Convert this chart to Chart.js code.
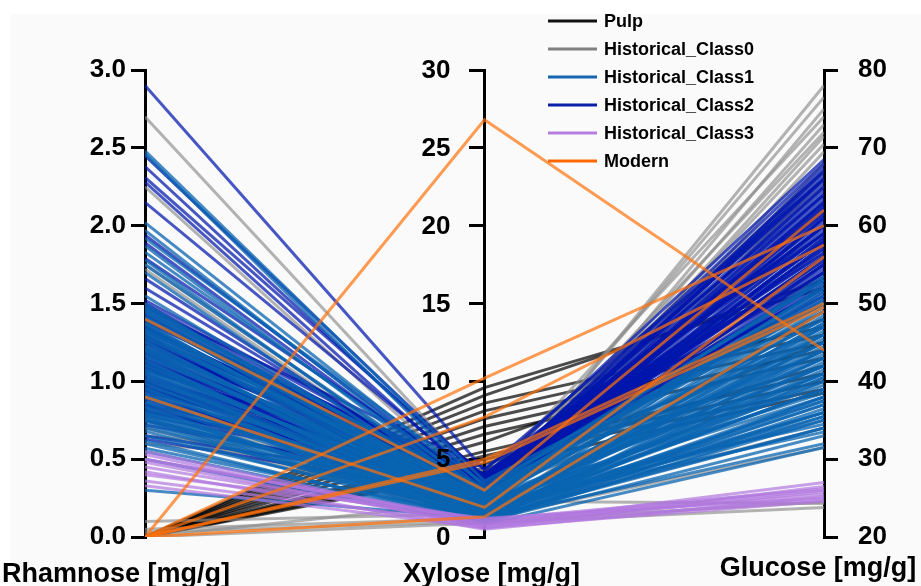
<!DOCTYPE html>
<html lang="en">
<head>
    <meta charset="UTF-8">
    <title>Parallel coordinates - sugars</title>
    <script src="https://cdn.jsdelivr.net/npm/chart.js"></script>
    <style>
        html, body { margin: 0; padding: 0; background: #ffffff; }
        #chart { display: block; }
    </style>
</head>
<body>
    <canvas id="chart" width="921" height="586"></canvas>

    <script>
    // axes (one value per line on each axis)
    const axisTitles = ['Rhamnose [mg/g]', 'Xylose [mg/g]', 'Glucose [mg/g]'];
    const rhaTicks = [0, 0.5, 1.0, 1.5, 2.0, 2.5, 3.0];
    const xylTicks = [0, 5, 10, 15, 20, 25, 30];
    const gluTicks = [20, 30, 40, 50, 60, 70, 80];

    const classNames = ['Pulp', 'Historical_Class0', 'Historical_Class1', 'Historical_Class2', 'Historical_Class3', 'Modern'];

    // Pulp
    const pulpRha = [0, 0, 0, 0, 0, 0, 0, 0, 0, 0, 0, 0, 0, 0];
    const pulpXyl = [9.6, 9.1, 8.6, 8.1, 7.6, 7.1, 6.6, 6.1, 5.5, 5.2, 5.0, 4.7, 4.4, 4.2];
    const pulpGlu = [52, 53, 47, 46, 45, 44, 43, 48, 41, 40, 39, 42, 38.5, 45];

    // Historical_Class0
    const c0Rha = [2.7, 2.25, 1.75, 1.72, 1.5, 1.3, 1.2, 1.1, 1.0, 0.95,
                   0.85, 0.75, 0.7, 0.65, 0.6, 0.1, 0.05, 0.03, 0.0, 0.0];
    const c0Xyl = [3.5, 2.8, 2.5, 2.2, 2.0, 1.8, 1.5, 1.4, 1.6, 1.2,
                   1.3, 1.0, 1.1, 4.3, 4.0, 1.5, 1.2, 1.0, 2.3, 0.9];
    const c0Glu = [74, 72, 76.5, 78, 70.5, 73, 75, 69.5, 71.5, 68,
                   66, 56, 54, 65, 67, 34, 31.5, 24.5, 24.3, 23.8];

    // Historical_Class1
    const c1Rha = [2.48, 2.46, 2.02, 1.97, 1.92, 1.87, 1.83, 1.78, 1.75, 1.70,
                   1.55, 1.50, 1.48, 1.45, 1.42, 1.40, 1.37, 1.34, 1.31, 1.28,
                   1.25, 1.22, 1.19, 1.16, 1.13, 1.10, 1.07, 1.04, 1.01, 0.98,
                   0.95, 0.92, 0.89, 0.86, 0.83, 0.80, 0.78, 0.76, 0.74, 0.72,
                   0.70, 0.68, 0.65, 0.62, 0.60, 0.57, 0.55, 0.50, 0.30, 1.33,
                   1.47, 1.44, 1.41, 1.38, 1.36, 1.32, 1.29, 1.26, 1.23, 1.20,
                   1.17, 1.14, 1.11, 1.08, 1.05, 1.02, 0.99, 0.96, 0.93, 0.90,
                   0.87, 0.84, 0.81, 0.79, 0.77, 0.75, 1.46, 1.21, 1.06, 0.91];
    const c1Xyl = [3.6, 3.2, 3.0, 2.7, 3.4, 2.5, 2.9, 2.2, 2.6, 2.0,
                   2.4, 1.8, 2.8, 2.1, 1.6, 2.5, 1.9, 2.3, 1.4, 2.7,
                   1.7, 2.0, 1.5, 2.2, 1.3, 1.8, 2.4, 1.2, 1.6, 2.0,
                   1.4, 1.1, 1.9, 1.5, 1.0, 1.7, 1.3, 2.1, 0.9, 1.2,
                   1.6, 1.0, 1.4, 0.9, 1.1, 1.3, 1.0, 0.8, 1.2, 2.6,
                   2.3, 1.9, 2.6, 1.5, 2.1, 1.8, 2.9, 1.4, 2.0, 1.6,
                   2.4, 1.2, 1.7, 2.2, 1.3, 1.9, 1.1, 1.5, 2.0, 1.3,
                   1.8, 1.0, 1.4, 1.6, 1.1, 1.2, 3.1, 2.5, 1.7, 0.9];
    const c1Glu = [50, 47, 53, 44, 49, 41, 46, 38, 52, 43,
                   48, 36, 51, 40, 45, 34.5, 47.5, 42, 37, 50.5,
                   39, 44.5, 35.5, 49.5, 41.5, 46.5, 38.5, 52.5, 43.5, 33.5,
                   48.5, 40.5, 45.5, 37.5, 42.5, 35, 47, 39.5, 44, 32,
                   41, 36.5, 49, 38, 43, 34, 46, 31.5, 37, 53.5,
                   51.5, 45, 48, 39, 42, 47, 50, 36, 44, 40.5,
                   52, 34, 46, 49, 37.5, 43, 35, 41, 45, 38,
                   47.5, 33, 42, 39, 36, 40, 53, 50, 44, 35.5];

    // Historical_Class2
    const c2Rha = [2.9, 2.45, 2.38, 2.31, 2.28, 2.15, 1.94, 1.89, 1.79, 1.66,
                   1.6, 1.52, 1.48, 1.45, 1.42, 1.4, 1.38, 1.35, 1.33, 1.3,
                   1.28, 1.25, 1.22, 1.2, 1.18, 1.15, 1.12, 1.1, 1.08, 1.05,
                   1.02, 1.0, 0.98, 0.96, 0.94, 0.92, 0.9, 0.88, 0.86, 0.84,
                   0.82, 0.8, 0.78, 0.75, 0.72, 0.65, 0.63, 1.13, 1.27, 0.99,
                   1.5, 1.47, 1.43, 1.39, 1.36, 1.32, 1.29, 1.24, 1.21, 1.17,
                   1.14, 1.11, 1.07, 1.04, 1.01, 0.97, 0.93, 0.89, 0.85, 0.81,
                   1.26, 1.09, 0.95, 1.19, 1.34];
    const c2Xyl = [4.3, 3.8, 3.6, 3.9, 3.2, 3.5, 3.0, 2.8, 3.3, 2.6,
                   2.9, 3.4, 2.7, 3.2, 3.1, 2.5, 3.9, 2.3, 2.8, 3.1,
                   3.8, 2.6, 4.0, 3.7, 2.4, 3.6, 2.2, 2.9, 3.5, 2.7,
                   4.0, 2.8, 3.4, 2.3, 3.6, 2.1, 3.3, 2.9, 3.5, 2.7,
                   3.2, 4.1, 3.4, 2.6, 3.3, 3.1, 2.5, 3.4, 2.9, 2.5,
                   3.0, 4.4, 2.8, 4.0, 2.6, 3.8, 2.3, 3.2, 3.7, 2.1,
                   2.5, 3.6, 3.9, 2.2, 3.5, 2.8, 4.0, 3.4, 3.6, 3.3,
                   3.0, 2.4, 3.7, 2.6, 3.3];
    const c2Glu = [66, 64, 62, 68.5, 60, 67, 63, 58, 65, 61,
                   57, 64.5, 59, 62.5, 66.5, 55, 60.5, 58.5, 63.5, 56,
                   61.5, 54, 59.5, 65.5, 57.5, 52, 62, 53, 60, 67.5,
                   55.5, 58, 51, 63, 56.5, 61, 50.5, 59, 54.5, 64,
                   52.5, 57, 60, 53.5, 58, 56, 51.5, 68, 62, 55,
                   63, 59, 65, 56.5, 61, 54, 58.5, 66, 52, 57.5,
                   62.5, 51, 55, 60, 53, 56, 59, 50, 54, 52,
                   64, 61.5, 55.5, 67, 66];

    // Historical_Class3
    const c3Rha = [0.55, 0.53, 0.5, 0.48, 0.45, 0.42, 0.4, 0.36, 0.33, 0.5];
    const c3Xyl = [0.8, 0.6, 1.0, 0.7, 0.9, 0.5, 1.2, 0.8, 0.6, 1.1];
    const c3Glu = [27, 26.5, 26, 25.8, 25.5, 25.2, 25, 24.8, 24.6, 26.2];

    // Modern
    const modRha = [0, 0, 0, 1.4, 0.9, 0, 0, 0];
    const modXyl = [26.8, 10.2, 7.7, 3.0, 1.9, 1.3, 5.0, 4.8];
    const modGlu = [44, 60, 57.5, 62, 56, 49, 50, 49.5];

    const legendColors = ['#111111', '#808080', '#1565b0', '#0a1ea8', '#b57ede', '#ff6600'];
    const lineColors = ['rgba(0,0,0,0.7)', 'rgba(140,140,140,0.65)', 'rgba(10,100,178,0.75)',
                        'rgba(0,22,172,0.72)', 'rgba(176,118,222,0.7)', 'rgba(255,112,10,0.7)'];
    const drawOrder = [5, 4, 2, 3, 1, 0];   // lower = drawn on top

    const groups = [
        [pulpRha, pulpXyl, pulpGlu],
        [c0Rha, c0Xyl, c0Glu],
        [c1Rha, c1Xyl, c1Glu],
        [c2Rha, c2Xyl, c2Glu],
        [c3Rha, c3Xyl, c3Glu],
        [modRha, modXyl, modGlu]
    ];

    // normalise each axis to 0..1 so all lines share one hidden scale
    const norm = (v, t) => (v - t[0]) / (t[t.length - 1] - t[0]);

    const datasets = [];
    groups.forEach((g, ci) => {
        g[0].forEach((r, i) => {
            datasets.push({
                data: [
                    { x: 0, y: norm(r, rhaTicks) },
                    { x: 1, y: norm(g[1][i], xylTicks) },
                    { x: 2, y: norm(g[2][i], gluTicks) }
                ],
                borderColor: lineColors[ci],
                borderWidth: 3,
                pointRadius: 0,
                tension: 0,
                yAxisID: 'yN',
                order: drawOrder[ci]
            });
        });
    });

    const tickFont = { family: 'Liberation Sans, Arial', size: 26, weight: 'bold' };

    function axisOpts(ticks, pos, pad, width, step) {
        return {
            type: 'linear',
            position: pos,
            min: ticks[0],
            max: ticks[ticks.length - 1],
            afterFit: width ? (s) => { s.width = width; } : undefined,
            ticks: {
                display: pad !== null,
                stepSize: step,
                color: '#000',
                font: tickFont,
                padding: pad || 0,
                callback: (v) => step < 1 ? v.toFixed(1) : v
            },
            grid: { drawOnChartArea: false, color: '#000', tickLength: 14, lineWidth: 3 },
            border: { color: '#000', width: 3 }
        };
    }

    const panelBg = {
        id: 'panelBg',
        beforeDraw(chart) {
            const c = chart.ctx;
            c.save();
            c.fillStyle = '#fafafa';
            c.fillRect(11, 14, chart.width - 11, chart.height - 14);
            c.restore();
        }
    };

    const extras = {
        id: 'extras',
        afterDraw(chart) {
            const c = chart.ctx;
            const xs = chart.scales.x;
            const ym = chart.scales.yX;
            c.save();
            // middle axis labels (left of the axis)
            c.fillStyle = '#000';
            c.font = 'bold 26px "Liberation Sans", Arial';
            c.textAlign = 'right';
            c.textBaseline = 'middle';
            xylTicks.forEach((v) => {
                c.fillText(String(v), xs.getPixelForValue(1) - 34, ym.getPixelForValue(v) + 1);
            });
            // axis titles
            c.font = 'bold 27px "Liberation Sans", Arial';
            c.textAlign = 'center';
            c.textBaseline = 'alphabetic';
            c.fillText(axisTitles[0], xs.getPixelForValue(0) - 29, 582);
            c.fillText(axisTitles[1], xs.getPixelForValue(1) + 7, 582);
            c.fillText(axisTitles[2], xs.getPixelForValue(2) - 6, 576);
            // legend
            c.font = 'bold 18px "Liberation Sans", Arial';
            c.textAlign = 'left';
            c.textBaseline = 'middle';
            classNames.forEach((name, i) => {
                const y = 21 + i * 28;
                c.strokeStyle = legendColors[i];
                c.lineWidth = 3;
                c.beginPath();
                c.moveTo(548, y);
                c.lineTo(597, y);
                c.stroke();
                c.fillStyle = '#000';
                c.fillText(name, 604, y + 1);
            });
            c.restore();
        }
    };

    new Chart(document.getElementById('chart'), {
        type: 'line',
        data: { datasets: datasets },
        options: {
            responsive: false,
            animation: false,
            layout: { padding: { left: 0, right: 0, top: 70, bottom: 49 } },
            plugins: { legend: { display: false }, tooltip: { enabled: false } },
            scales: {
                x: { type: 'linear', min: 0, max: 2, display: false },
                yN: { type: 'linear', min: 0, max: 1, display: false },
                yR: axisOpts(rhaTicks, 'left', 5, 145, 0.5),
                yX: axisOpts(xylTicks, { x: 1 }, null, null, 5),
                yG: axisOpts(gluTicks, 'right', 20, 97, 10)
            }
        },
        plugins: [panelBg, extras]
    });
    </script>
</body>
</html>
